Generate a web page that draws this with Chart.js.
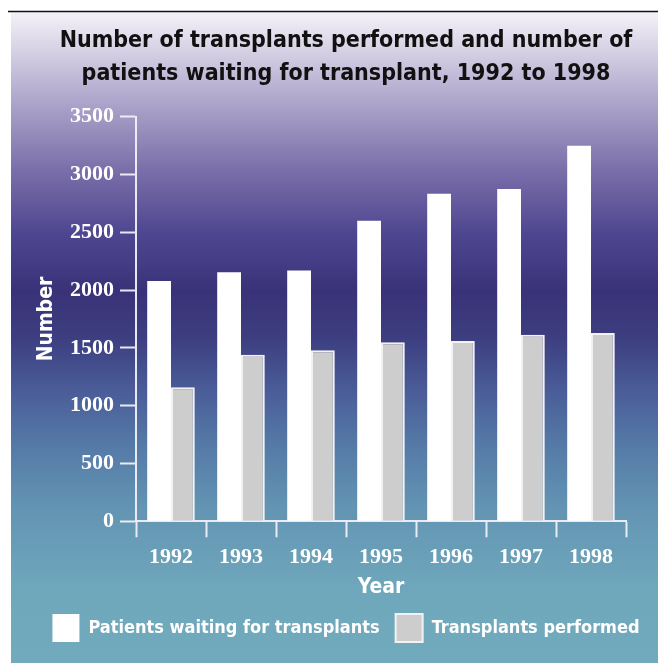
<!DOCTYPE html>
<html>
<head>
<meta charset="utf-8">
<script src="https://cdn.jsdelivr.net/npm/chart.js@4.4.1/dist/chart.umd.min.js"></script>
<style>
  html, body { margin: 0; padding: 0; background: #ffffff; }
  #wrap { width: 658px; height: 663px; position: relative; }
</style>
</head>
<body>
<div id="wrap"><canvas id="c" width="658" height="663"></canvas></div>
<script>
const years = ['1992', '1993', '1994', '1995', '1996', '1997', '1998'];
const waiting = [2080, 2155, 2170, 2600, 2835, 2875, 3250];
const performed = [1160, 1440, 1480, 1550, 1560, 1615, 1630];
const yTicks = [0, 500, 1000, 1500, 2000, 2500, 3000, 3500];
const titleLines = ['Number of transplants performed and number of', 'patients waiting for transplant, 1992 to 1998'];
const seriesNames = ['Patients waiting for transplants', 'Transplants performed'];

const condensed = '"Liberation Sans Narrow", "DejaVu Sans Condensed", "Open Sans", sans-serif';
const serif = '"Liberation Serif", "DejaVu Serif", serif';

const bgPlugin = {
  id: 'bg',
  beforeDraw(chart) {
    const ctx = chart.ctx;
    const W = chart.width, H = chart.height;
    ctx.save();
    ctx.fillStyle = '#ffffff';
    ctx.fillRect(0, 0, W, H);
    const g = ctx.createLinearGradient(0, 12, 0, H);
    g.addColorStop(0.0, '#f4f2f8');
    g.addColorStop(0.06, '#d6d0e4');
    g.addColorStop(0.14, '#aca4ca');
    g.addColorStop(0.24, '#7c70aa');
    g.addColorStop(0.34, '#4e4690');
    g.addColorStop(0.43, '#3a3278');
    g.addColorStop(0.50, '#3c3e80');
    g.addColorStop(0.58, '#4a5c98');
    g.addColorStop(0.66, '#5478a6');
    g.addColorStop(0.76, '#6394b3');
    g.addColorStop(0.88, '#6ea6bb');
    g.addColorStop(1.0, '#72aabd');
    ctx.fillStyle = g;
    ctx.fillRect(11, 12, W - 11, H - 12);
    ctx.strokeStyle = '#111111';
    ctx.lineWidth = 1.5;
    ctx.beginPath();
    ctx.moveTo(8, 11.5);
    ctx.lineTo(W, 11.5);
    ctx.stroke();
    ctx.restore();
  }
};

const axisColor = 'rgba(240,240,250,0.95)';

new Chart(document.getElementById('c'), {
  type: 'bar',
  data: {
    labels: years,
    datasets: [
      {
        label: seriesNames[0],
        data: waiting,
        backgroundColor: '#ffffff',
        borderColor: '#ffffff',
        borderWidth: 0,
        categoryPercentage: 0.68,
        barPercentage: 1.0
      },
      {
        label: seriesNames[1],
        data: performed,
        backgroundColor: '#cdcdcd',
        borderColor: '#f2f2f2',
        borderWidth: 2,
        categoryPercentage: 0.68,
        barPercentage: 1.0
      }
    ]
  },
  options: {
    responsive: false,
    animation: false,
    devicePixelRatio: 1,
    layout: { padding: { left: 34, right: 0, top: 0, bottom: 11 } },
    plugins: {
      title: {
        display: true,
        text: titleLines,
        color: '#111111',
        font: { family: condensed, size: 23, weight: 'bold', lineHeight: 1.43 },
        padding: { top: 25, bottom: 26 }
      },
      legend: {
        display: true,
        position: 'bottom',
        labels: {
          color: '#ffffff',
          boxWidth: 27,
          boxHeight: 28,
          padding: 16,
          font: { family: condensed, size: 18, weight: 'bold' },
          generateLabels(chart) {
            return chart.data.datasets.map((ds, i) => ({
              text: ds.label,
              fillStyle: ds.backgroundColor,
              strokeStyle: i === 1 ? '#f2f2f2' : '#ffffff',
              lineWidth: i === 1 ? 2 : 0,
              fontColor: '#ffffff',
              hidden: false,
              datasetIndex: i
            }));
          }
        }
      },
      tooltip: { enabled: false }
    },
    scales: {
      x: {
        type: 'category',
        offset: true,
        afterFit(scale) { scale.paddingRight = 32; },
        grid: {
          display: true,
          offset: true,
          drawOnChartArea: false,
          drawTicks: true,
          tickLength: 16,
          tickWidth: 2,
          tickColor: axisColor
        },
        border: { display: true, color: axisColor, width: 2 },
        ticks: {
          color: '#ffffff',
          font: { family: serif, size: 22, weight: 'bold', lineHeight: 1.0 },
          padding: 8.7,
          maxRotation: 0
        },
        title: {
          display: true,
          text: 'Year',
          color: '#ffffff',
          font: { family: condensed, size: 21, weight: 'bold', lineHeight: 1.0 },
          padding: { top: 0.3, bottom: 0 }
        }
      },
      y: {
        min: 0,
        max: 3500,
        afterBuildTicks(scale) {
          scale.ticks = yTicks.map(v => ({ value: v }));
        },
        afterFit(scale) { scale.width = 102; },
        grid: {
          display: true,
          drawOnChartArea: false,
          drawTicks: true,
          tickLength: 16,
          tickWidth: 2,
          tickColor: axisColor
        },
        border: { display: true, color: axisColor, width: 2 },
        ticks: {
          color: '#ffffff',
          font: { family: serif, size: 22, weight: 'bold' },
          padding: 6,
          callback: (v) => String(v)
        },
        title: {
          display: true,
          text: 'Number',
          color: '#ffffff',
          font: { family: condensed, size: 21, weight: 'bold', lineHeight: 1.0 },
          padding: { top: 2, bottom: 0 }
        }
      }
    }
  },
  plugins: [bgPlugin]
});
</script>
</body>
</html>
